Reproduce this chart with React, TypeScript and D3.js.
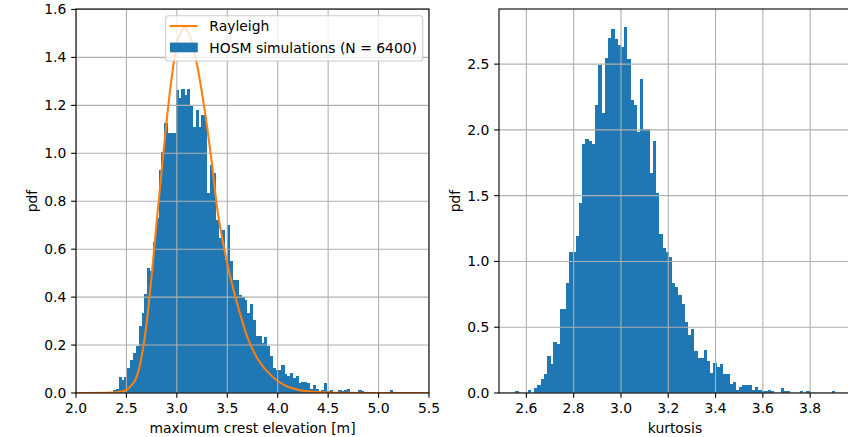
import * as d3 from "d3";

// left panel: histogram of maximum crest elevation (density)
const crestBinStart = 2.31;
const crestBinWidth = 0.0283;
const crestPdf = [
  0.0055, 0.0055, 0.011, 0.017, 0.065, 0.054, 0.068, 0.106, 0.139, 0.166,
  0.198, 0.278, 0.334, 0.415, 0.52, 0.51, 0.632, 0.73, 0.93, 1.007,
  1.125, 1.083, 1.083, 1.083, 1.264, 1.23, 1.267, 1.243, 1.267, 1.2,
  1.11, 1.18, 1.11, 1.16, 1.15, 0.836, 0.951, 0.916, 0.722, 0.646,
  0.678, 0.555, 0.7, 0.55, 0.473, 0.473, 0.409, 0.402, 0.389, 0.332,
  0.371, 0.305, 0.236, 0.236, 0.207, 0.235, 0.197, 0.156, 0.106, 0.096,
  0.096, 0.117, 0.081, 0.072, 0.083, 0.064, 0.072, 0.042, 0.047, 0.046,
  0.04, 0.017, 0.032, 0.015, 0.008, 0.0125, 0.042, 0.01, 0.0125, 0.0055,
  0.0055, 0.011, 0.007, 0.011, 0.015, 0, 0, 0, 0.011, 0.007,
  0, 0, 0, 0, 0, 0.0055, 0, 0, 0, 0.011,
];

// Rayleigh curve
const rayleighX = [
  2.0, 2.3, 2.4, 2.45, 2.5, 2.55, 2.6, 2.65, 2.7, 2.75, 2.8, 2.85, 2.9, 2.95,
  3.0, 3.05, 3.075, 3.1, 3.15, 3.2, 3.25, 3.3, 3.35, 3.4, 3.45, 3.5, 3.6, 3.7,
  3.8, 3.9, 4.0, 4.1, 4.2, 4.4, 4.6, 5.0, 5.5,
];
const rayleighPdf = [
  0, 0.001, 0.003, 0.006, 0.013, 0.032, 0.065, 0.15, 0.29, 0.49, 0.715, 0.93,
  1.14, 1.32, 1.455, 1.512, 1.524, 1.516, 1.46, 1.37, 1.25, 1.11, 0.95, 0.77,
  0.645, 0.54, 0.37, 0.232, 0.143, 0.088, 0.05, 0.026, 0.014, 0.004, 0.001, 0,
  0,
];

// right panel: histogram of kurtosis (density)
const kurtBinStart = 2.552;
const kurtBinWidth = 0.01353;
const kurtPdf = [
  0.012, 0, 0, 0, 0.023, 0, 0.035, 0.058, 0.104, 0.144,
  0.28, 0.22, 0.386, 0.371, 0.636, 0.636, 0.833, 1.07, 1.07, 1.197,
  1.442, 1.889, 1.934, 1.912, 1.889, 2.192, 2.495, 2.131, 2.548, 2.699,
  2.768, 2.692, 2.646, 2.63, 2.78, 2.54, 2.23, 2.19, 1.987, 2.389,
  2.01, 2.01, 1.67, 1.912, 1.517, 1.207, 1.1, 1.07, 1.033, 0.833,
  0.806, 0.745, 0.677, 0.54, 0.442, 0.487, 0.32, 0.268, 0.268, 0.33,
  0.245, 0.152, 0.227, 0.197, 0.22, 0.144, 0.144, 0.068, 0.083, 0.023,
  0.045, 0.06, 0.06, 0.06, 0.023, 0.045, 0.023, 0.012, 0.012, 0.023,
  0.012, 0, 0, 0.035, 0.012, 0.012, 0, 0, 0, 0.012,
  0, 0.012, 0, 0, 0, 0, 0, 0, 0, 0.012,
];

const crestTicksX = [2.0, 2.5, 3.0, 3.5, 4.0, 4.5, 5.0, 5.5];
const crestTicksY = [0, 0.2, 0.4, 0.6, 0.8, 1.0, 1.2, 1.4, 1.6];
const kurtTicksX = [2.6, 2.8, 3.0, 3.2, 3.4, 3.6, 3.8];
const kurtTicksY = [0, 0.5, 1.0, 1.5, 2.0, 2.5];

const BLUE = "#1f77b4";
const ORANGE = "#ff7f0e";
const GRID = "#b0b0b0";
const FONT = "DejaVu Sans";
const FS = 13.9;
const TICK = 4.86;

function Panel({ id, left, right, top, bottom, xDomain, yDomain, binStart, binWidth, pdf, xTicks, yTicks, xLabel, yLabelX, curve }) {
  const x = d3.scaleLinear().domain(xDomain).range([left, right]);
  const y = d3.scaleLinear().domain(yDomain).range([bottom, top]);
  const fmt = d3.format(".1f");
  const line = d3.line<number>()
    .x((_, i) => x(curve ? curve.xs[i] : 0))
    .y(d => y(d))
    .curve(d3.curveMonotoneX);

  return (
    <g>
      <defs>
        <clipPath id={id}>
          <rect x={left} y={top} width={right - left} height={bottom - top} />
        </clipPath>
      </defs>
      <g clipPath={`url(#${id})`}>
        {pdf.map((v, i) => {
          if (v <= 0) return null;
          const x0 = x(binStart + i * binWidth);
          const x1 = x(binStart + (i + 1) * binWidth);
          return (
            <rect key={i} x={x0} y={y(v)} width={x1 - x0 + 0.3} height={y(0) - y(v)}
              fill={BLUE} shapeRendering="crispEdges" />
          );
        })}
        {xTicks.map(t => (
          <line key={"gx" + t} x1={x(t)} x2={x(t)} y1={top} y2={bottom} stroke={GRID} strokeWidth={1.1} />
        ))}
        {yTicks.map(t => (
          <line key={"gy" + t} x1={left} x2={right} y1={y(t)} y2={y(t)} stroke={GRID} strokeWidth={1.1} />
        ))}
        {curve && (
          <path d={line(curve.ys) || ""} fill="none" stroke={ORANGE} strokeWidth={2.08} />
        )}
      </g>
      {/* spines */}
      <rect x={left} y={top} width={right - left} height={bottom - top} fill="none" stroke="#000" strokeWidth={1.1} />
      {xTicks.map(t => (
        <g key={"tx" + t}>
          <line x1={x(t)} x2={x(t)} y1={bottom} y2={bottom + TICK} stroke="#000" strokeWidth={1.1} />
          <text x={x(t)} y={bottom + 2 * TICK + 10.6} textAnchor="middle" fontFamily={FONT} fontSize={FS}>{fmt(t)}</text>
        </g>
      ))}
      {yTicks.map(t => (
        <g key={"ty" + t}>
          <line x1={left - TICK} x2={left} y1={y(t)} y2={y(t)} stroke="#000" strokeWidth={1.1} />
          <text x={left - 2 * TICK} y={y(t) + 5} textAnchor="end" fontFamily={FONT} fontSize={FS}>{fmt(t)}</text>
        </g>
      ))}
      <text x={(left + Math.min(right, 851)) / 2} y={433} textAnchor="middle" fontFamily={FONT} fontSize={FS}>{xLabel}</text>
      <text transform={`translate(${yLabelX},${(top + bottom) / 2}) rotate(-90)`} textAnchor="middle" fontFamily={FONT} fontSize={FS}>pdf</text>
    </g>
  );
}

export default function App() {
  return (
    <svg width={848} height={437} style={{ position: "absolute", left: 0, top: 0, background: "#fff" }}>
      <rect width={848} height={437} fill="#fff" />
      <Panel id="clipA" left={76} right={429} top={9} bottom={393}
        xDomain={[2.0, 5.5]} yDomain={[0, 1.602]}
        binStart={crestBinStart} binWidth={crestBinWidth} pdf={crestPdf}
        xTicks={crestTicksX} yTicks={crestTicksY}
        xLabel="maximum crest elevation [m]" yLabelX={37}
        curve={{ xs: rayleighX, ys: rayleighPdf }} />
      <Panel id="clipB" left={499} right={851} top={9} bottom={393}
        xDomain={[2.4843, 3.9727]} yDomain={[0, 2.919]}
        binStart={kurtBinStart} binWidth={kurtBinWidth} pdf={kurtPdf}
        xTicks={kurtTicksX} yTicks={kurtTicksY}
        xLabel="kurtosis" yLabelX={460} curve={null} />
      {/* legend */}
      <g>
        <rect x={165.7} y={15.7} width={257} height={45.3} rx={2.8} fill="#fff" fillOpacity={0.8} stroke="#cccccc" strokeWidth={1.1} />
        <line x1={169.5} x2={197.5} y1={26} y2={26} stroke={ORANGE} strokeWidth={2.08} />
        <text x={209.3} y={31} fontFamily={FONT} fontSize={FS}>Rayleigh</text>
        <rect x={170} y={42.6} width={27.8} height={9.7} fill={BLUE} />
        <text x={209.3} y={52.5} fontFamily={FONT} fontSize={FS}>HOSM simulations (N = 6400)</text>
      </g>
    </svg>
  );
}
